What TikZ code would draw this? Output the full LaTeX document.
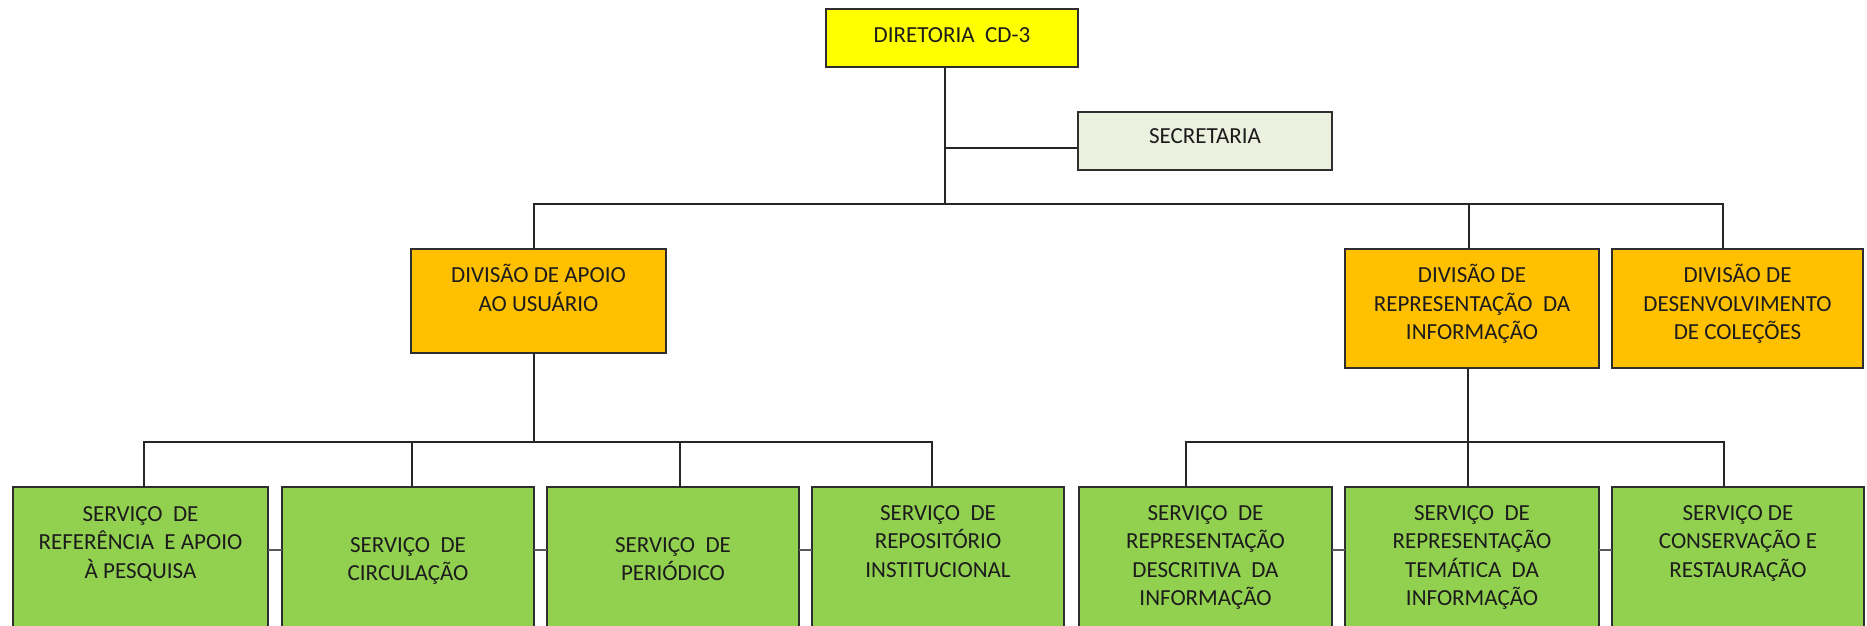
\documentclass[tikz,border=0pt]{standalone}
\usepackage{fontspec}
\setmainfont{Carlito}
\definecolor{boxline}{HTML}{2E2E2E}
\definecolor{connc}{HTML}{262626}
\definecolor{sidec}{HTML}{595959}
\definecolor{textc}{HTML}{1C1C1C}
\definecolor{yel}{HTML}{FFFF00}
\definecolor{secc}{HTML}{EBF1DE}
\definecolor{orng}{HTML}{FFC000}
\definecolor{grn}{HTML}{92D050}
\begin{document}
\begin{tikzpicture}[x=1pt,y=-1pt,
  box/.style={draw=boxline, line width=1.8pt, rectangle, anchor=north west, inner sep=0pt, outer sep=0pt},
  txt/.style={anchor=north, inner sep=0pt, align=center, font=\fontsize{23}{28.5}\selectfont, text=textc},
  conn/.style={draw=connc, line width=1.8pt},
  side/.style={draw=sidec, line width=2.6pt}]
\useasboundingbox (0,0) rectangle (1867,625);
\fill[white] (0,0) rectangle (1867,625);
\clip (0,0) rectangle (1867,625);

% boxes
\node[box, fill=yel,  minimum width=252pt, minimum height=58pt]  (dir) at (826,9) {};
\node[box, fill=secc, minimum width=254pt, minimum height=58pt]  (sec) at (1078,112) {};
\node[box, fill=orng, minimum width=255pt, minimum height=104pt] (da)  at (411,249) {};
\node[box, fill=orng, minimum width=254pt, minimum height=119pt] (dr)  at (1345,249) {};
\node[box, fill=orng, minimum width=251pt, minimum height=119pt] (dd)  at (1612,249) {};
\node[box, fill=grn, minimum width=255pt, minimum height=175pt] (b1) at (13,487) {};
\node[box, fill=grn, minimum width=252pt, minimum height=175pt] (b2) at (282,487) {};
\node[box, fill=grn, minimum width=252pt, minimum height=175pt] (b3) at (547,487) {};
\node[box, fill=grn, minimum width=252pt, minimum height=175pt] (b4) at (812,487) {};
\node[box, fill=grn, minimum width=253pt, minimum height=175pt] (b5) at (1079,487) {};
\node[box, fill=grn, minimum width=254pt, minimum height=175pt] (b6) at (1345,487) {};
\node[box, fill=grn, minimum width=252pt, minimum height=175pt] (b7) at (1612,487) {};

% texts
\node[txt] (tdir) at ([yshift=-13pt]dir.north) {\rule{0pt}{20pt}DIRETORIA~ CD-3};
\node[txt] (tsec) at ([yshift=-11pt]sec.north) {\rule{0pt}{20pt}SECRETARIA};
\node[txt] (tda) at ([yshift=-13.5pt]da.north) {\rule{0pt}{20pt}DIVISÃO DE APOIO\\AO USUÁRIO};
\node[txt] (tdr) at ([yshift=-13.5pt]dr.north) {\rule{0pt}{20pt}DIVISÃO DE\\REPRESENTAÇÃO~ DA\\INFORMAÇÃO};
\node[txt] (tdd) at ([yshift=-13.5pt]dd.north) {\rule{0pt}{20pt}DIVISÃO DE\\DESENVOLVIMENTO\\DE COLEÇÕES};
\node[txt] (t1) at ([yshift=-14pt]b1.north) {\rule{0pt}{20pt}SERVIÇO~ DE\\REFERÊNCIA~ E APOIO\\À PESQUISA};
\node[txt] (t2) at ([yshift=-45pt]b2.north) {\rule{0pt}{20pt}SERVIÇO~ DE\\CIRCULAÇÃO};
\node[txt] (t3) at ([yshift=-45pt]b3.north) {\rule{0pt}{20pt}SERVIÇO~ DE\\PERIÓDICO};
\node[txt] (t4) at ([yshift=-13pt]b4.north) {\rule{0pt}{20pt}SERVIÇO~ DE\\REPOSITÓRIO\\INSTITUCIONAL};
\node[txt] (t5) at ([yshift=-13pt]b5.north) {\rule{0pt}{20pt}SERVIÇO~ DE\\REPRESENTAÇÃO\\DESCRITIVA~ DA\\INFORMAÇÃO};
\node[txt] (t6) at ([yshift=-13pt]b6.north) {\rule{0pt}{20pt}SERVIÇO~ DE\\REPRESENTAÇÃO\\TEMÁTICA~ DA\\INFORMAÇÃO};
\node[txt] (t7) at ([yshift=-13pt]b7.north) {\rule{0pt}{20pt}SERVIÇO DE\\CONSERVAÇÃO E\\RESTAURAÇÃO};

% junction coordinates
\coordinate (jT) at (945,204);
\coordinate (jS) at (945,148);
\coordinate (cA) at (534,204);
\coordinate (cR) at (1469,204);
\coordinate (cD) at (1723,204);
\coordinate (lA) at (534,442);
\coordinate (l1) at (144,442);
\coordinate (l2) at (412,442);
\coordinate (l3) at (680,442);
\coordinate (l4) at (932,442);
\coordinate (rA) at (1468,442);
\coordinate (r5) at (1186,442);
\coordinate (r7) at (1724,442);
\coordinate (mid) at (0,550);

% connectors
\draw[conn] (dir.south -| jT) -- (jT);
\draw[conn] (jS) -- (sec.west |- jS);
\draw[conn] (da.north -| cA) -- (cA) -- (cD) -- (dd.north -| cD);
\draw[conn] (cR) -- (dr.north -| cR);
\draw[conn] (da.south -| lA) -- (lA);
\draw[conn] (b1.north -| l1) -- (l1) -- (l4) -- (b4.north -| l4);
\draw[conn] (l2) -- (b2.north -| l2);
\draw[conn] (l3) -- (b3.north -| l3);
\draw[conn] (dr.south -| rA) -- (rA);
\draw[conn] (b5.north -| r5) -- (r5) -- (r7) -- (b7.north -| r7);
\draw[conn] (rA) -- (b6.north -| rA);

% side links
\draw[side] (b1.east |- mid) -- (b2.west |- mid);
\draw[side] (b2.east |- mid) -- (b3.west |- mid);
\draw[side] (b3.east |- mid) -- (b4.west |- mid);
\draw[side] (b5.east |- mid) -- (b6.west |- mid);
\draw[side] (b6.east |- mid) -- (b7.west |- mid);
\end{tikzpicture}
\end{document}
